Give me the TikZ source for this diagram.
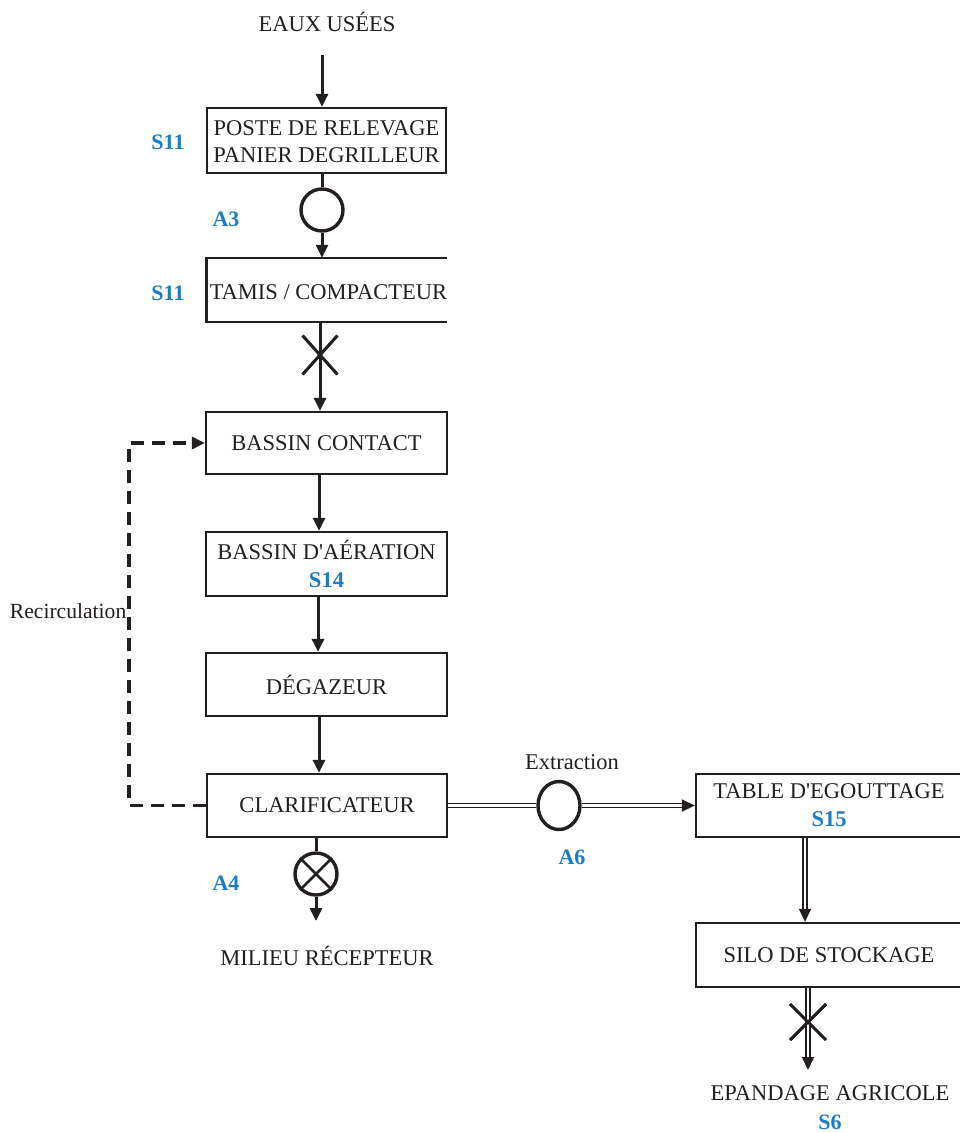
\documentclass[tikz,border=0pt]{standalone}
\usepackage{fontspec}
\setmainfont{Liberation Serif}
\usetikzlibrary{arrows.meta,shapes.geometric,shapes.misc}
\definecolor{lblblue}{RGB}{30,124,196}
\definecolor{ink}{RGB}{35,31,32}
\begin{document}
\begin{tikzpicture}[x=1pt,y=-1pt,
  font=\fontsize{22.5}{28}\selectfont,
  box/.style={draw=ink, line width=2.3pt, inner sep=0pt, align=center, text=ink},
  openbox/.style={inner sep=0pt, align=center, text=ink},
  txt/.style={text=ink, inner sep=0pt},
  tag/.style={text=lblblue, inner sep=0pt, font=\fontsize{22}{27}\selectfont\bfseries},
  plain/.style={draw=ink, line width=3pt},
  flow/.style={draw=ink, line width=3pt, -{Triangle[length=13pt,width=12pt]}},
  dbl/.style={draw=ink, double=white, double distance=2.6pt, line width=1.6pt},
  dblarrow/.style={dbl, -{Triangle[length=13pt,width=12pt]}},
  valve/.style={circle, draw=ink, line width=3.4pt, minimum size=42pt, inner sep=0pt},
  xmark/.style={cross out, draw=ink, line width=2.8pt, inner sep=0pt},
  recirc/.style={draw=ink, line width=3.5pt, dash pattern=on 13pt off 8pt, -{Triangle[length=13pt,width=12pt]}}
]
\useasboundingbox (0,0) rectangle (960,1133);
\fill[white] (0,0) rectangle (960,1133);

% main column
\node[txt] (eaux) at (327,22) {EAUX USÉES};
\coordinate (c0) at (322,55);
\node[box, minimum width=239pt, minimum height=65pt] (b1) at (326.5,140.5) {\raisebox{0pt}[\dimexpr\height+6pt\relax][\depth]{\begin{tabular}{@{}c@{}}POSTE DE RELEVAGE\\[-1pt]PANIER DEGRILLEUR\end{tabular}}};
\node[tag] (s11a) at (168,142) {S11};
\node[valve] (a3c) at (322,210) {};
\node[tag] (a3) at (226,219) {A3};
\node[openbox, minimum width=240pt, minimum height=64pt] (b2) at (327,290) {\hspace*{3pt}\raisebox{0pt}[\dimexpr\height+4pt\relax][\depth]{TAMIS / COMPACTEUR}};
\draw[ink, line width=2.3pt] (b2.north east) -- (b2.north west) -- (b2.south west) -- (b2.south east);
\node[tag] (s11b) at (168,293) {S11};
\node[xmark, minimum width=32pt, minimum height=36pt] (x1) at (320,355) {};
\node[box, minimum width=241pt, minimum height=62pt] (b3) at (326.5,443) {BASSIN CONTACT};
\node[box, minimum width=241pt, minimum height=64pt] (b4) at (326.5,564) {BASSIN D\textquotesingle AÉRATION\\[0pt]{\color{lblblue}\bfseries S14}};
\node[box, minimum width=241pt, minimum height=63pt] (b5) at (326.5,684.5) {DÉGAZEUR};
\node[box, minimum width=240pt, minimum height=63pt] (b6) at (327,805.5) {CLARIFICATEUR};
\node[valve] (a4c) at (316,874) {};
\draw[ink, line width=2.8pt] (a4c.north west) -- (a4c.south east) (a4c.north east) -- (a4c.south west);
\node[tag] (a4) at (226,883) {A4};
\coordinate (m1) at (316,921);
\node[txt] (mil) at (327,956) {MILIEU RÉCEPTEUR};

% recirculation
\coordinate (rc) at (129,611);
\node[txt, anchor=east, font=\fontsize{21.6}{27}\selectfont] (rl) at (126.5,611) {Recirculation};

% extraction branch
\node[txt] (extr) at (572,762) {Extraction};
\node[ellipse, draw=ink, line width=3.4pt, minimum width=42pt, minimum height=48pt, inner sep=0pt] (a6c) at (559,805.5) {};
\node[tag] (a6) at (572,857) {A6};
\node[box, minimum width=266pt, minimum height=63pt] (tab) at (829,805.5) {TABLE D\textquotesingle EGOUTTAGE\\[0pt]{\color{lblblue}\bfseries S15}};
\node[box, minimum width=266pt, minimum height=64pt] (silo) at (829,955) {SILO DE STOCKAGE};
\coordinate (c5) at (805,0);
\node[xmark, minimum width=33pt, minimum height=33pt] (x2) at (808,1022) {};
\coordinate (e1) at (808,1070);
\node[txt] (ep) at (830,1093) {EPANDAGE AGRICOLE};
\node[tag] (s6) at (830,1122) {S6};

% connectors
\draw[flow] (c0) -- (b1.north -| c0);
\draw[plain] (b1.south -| a3c) -- (a3c.north);
\draw[flow] (a3c.south) -- (b2.north -| a3c);
\draw[flow] (b2.south -| x1) -- (b3.north -| x1);
\coordinate (c2) at (319,0);
\draw[flow] (b3.south -| c2) -- (b4.north -| c2);
\coordinate (c3) at (318,0);
\draw[flow] (b4.south -| c3) -- (b5.north -| c3);
\coordinate (c4) at (319,0);
\draw[flow] (b5.south -| c4) -- (b6.north -| c4);
\draw[plain] (b6.south -| a4c) -- (a4c.north);
\draw[flow] (a4c.south) -- (m1);
\draw[recirc] (b6.west) -| (rc |- b3.west) -- (b3.west);
\draw[dbl] (b6.east) -- (a6c.west);
\draw[dblarrow] (a6c.east) -- (tab.west);
\draw[dblarrow] (tab.south -| c5) -- (silo.north -| c5);
\draw[dblarrow] (silo.south -| x2) -- (e1);
\node[xmark, minimum width=33pt, minimum height=33pt] at (x2) {};
\node[xmark, minimum width=32pt, minimum height=36pt] at (x1) {};
\end{tikzpicture}
\end{document}
